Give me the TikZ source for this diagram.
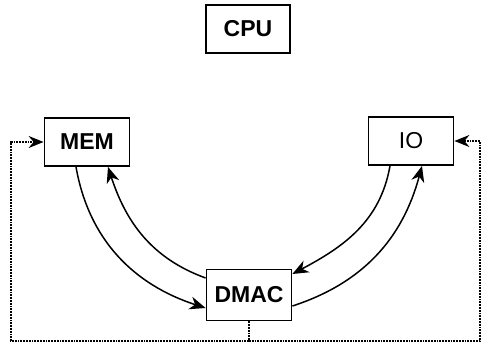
\documentclass[tikz,border=0pt]{standalone}
\usepackage{fontspec}
\setmainfont{Liberation Sans}
\usetikzlibrary{arrows.meta,positioning}

\begin{document}
\begin{tikzpicture}[
    x=1pt,y=1pt,
    unit/.style={draw,line width=1.8pt,minimum width=85pt,minimum height=48pt,inner sep=0pt,font=\fontsize{23}{26}\selectfont\bfseries},
    flow/.style={-{Stealth[length=16pt,width=13pt,inset=5pt]},line width=1.5pt},
    bus/.style={-{Stealth[length=15pt,width=12pt,inset=5pt]},line width=1.4pt,dash pattern=on 1.8pt off 1pt}
  ]
    \useasboundingbox (0,0) rectangle (483,343);
    \node[unit,minimum width=84pt] (cpu) at (248,314) {CPU};
    \node[unit] (mem) at (87,201) {MEM};
    \node[unit,font=\fontsize{23}{26}\selectfont] (io) at (411,202) {IO};
    \node[unit,minimum height=51pt] (dmac) at (249,48) {DMAC};
    % memory side
    \draw[flow] ([xshift=-11pt]mem.south) to[out=-80,in=162] ([yshift=-13pt]dmac.west);
    \draw[flow] ([yshift=17pt]dmac.west) to[out=160,in=-72] ([xshift=21pt]mem.south);
    % io side
    \draw[flow] ([xshift=-21pt]io.south) to[out=-100,in=28] ([yshift=21pt]dmac.east);
    \draw[flow] ([yshift=-11pt]dmac.east) to[out=18,in=-105] ([xshift=11pt]io.south);
    % bus lines
    \coordinate (busL) at (11,2);
    \coordinate (busR) at (480,2);
    \draw[bus] (dmac.south) |- (busL) |- (mem.west);
    \draw[bus] (dmac.south) |- (busR) |- (io.east);
\end{tikzpicture}
\end{document}
